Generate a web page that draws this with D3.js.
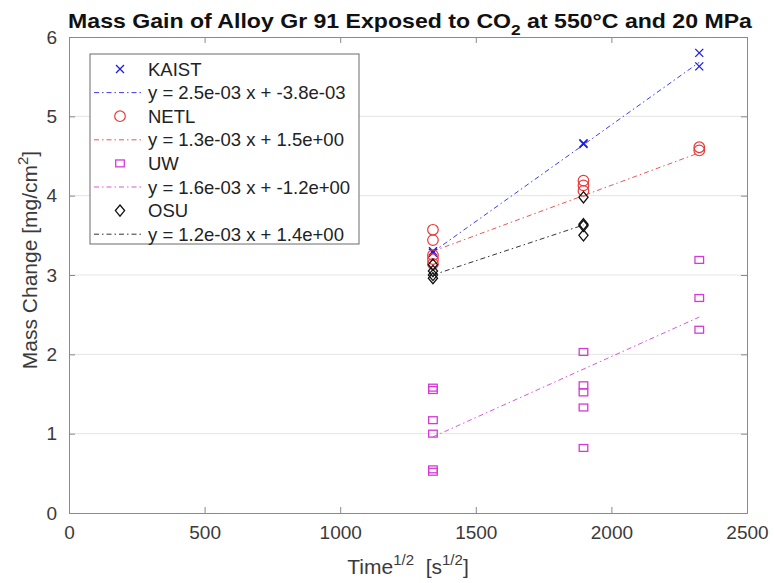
<!DOCTYPE html>
<html><head><meta charset="utf-8">
<script src="https://cdn.jsdelivr.net/npm/d3@7"></script>
<style>
body{margin:0;background:#fff;}
text{font-family:"Liberation Sans",Arial,sans-serif;}
</style></head>
<body><svg id="c" width="774" height="583"></svg>
<script>
// ---- data ----
const seriesNames = ["KAIST", "NETL", "UW", "OSU"];
const kaistX = [1342, 1342, 1897, 1897, 2324, 2324];
const kaistY = [3.28, 3.30, 4.65, 4.66, 5.80, 5.63];
const netlX = [1342, 1342, 1342, 1342, 1342, 1897, 1897, 1897, 2324, 2324];
const netlY = [3.57, 3.44, 3.25, 3.20, 3.14, 4.19, 4.13, 4.06, 4.61, 4.57];
const uwX = [1342, 1342, 1342, 1342, 1342, 1342, 1897, 1897, 1897, 1897, 1897, 2324, 2324, 2324];
const uwY = [1.58, 1.55, 1.17, 1.00, 0.55, 0.52, 2.03, 1.61, 1.52, 1.33, 0.82, 3.19, 2.71, 2.31];
const osuX = [1342, 1342, 1342, 1342, 1897, 1897, 1897, 1897];
const osuY = [3.13, 3.05, 3.00, 2.96, 3.98, 3.64, 3.62, 3.50];
const fitSlope = [2.434e-3, 1.263e-3, 1.538e-3, 1.135e-3];
const fitIntercept = [0.024, 1.605, -1.104, 1.477];
const fitLabels = ["y = 2.5e-03 x + -3.8e-03", "y = 1.3e-03 x + 1.5e+00", "y = 1.6e-03 x + -1.2e+00", "y = 1.2e-03 x + 1.4e+00"];
const xTicks = [0, 500, 1000, 1500, 2000, 2500];
const yTicks = [0, 1, 2, 3, 4, 5, 6];
const colors = ["#1c1ce6", "#e83a3a", "#d63ad6", "#111111"];
const markerTypes = ["x", "circle", "square", "diamond"];

const seriesData = [[kaistX, kaistY], [netlX, netlY], [uwX, uwY], [osuX, osuY]];

// ---- layout ----
const L = 69, R = 747, T = 37, B = 513;
const svg = d3.select("#c");
const x = d3.scaleLinear().domain([0, 2500]).range([L, R]);
const y = d3.scaleLinear().domain([0, 6]).range([B, T]);
const axisCol = "#8a8a8a", textCol = "#3a3a3a";
const fontFam = '"Liberation Sans",Arial,sans-serif';

// grid
svg.append("g").selectAll("line").data(yTicks.slice(1, -1)).join("line")
  .attr("x1", L).attr("x2", R).attr("y1", d => y(d)).attr("y2", d => y(d))
  .attr("stroke", "#e4e4e4").attr("stroke-width", 1);

// axes
const fs = 19;
const fmt = d3.format("d");
const gx = svg.append("g").attr("transform", `translate(0,${B})`)
  .call(d3.axisBottom(x).tickValues(xTicks).tickSize(-6).tickPadding(13).tickFormat(fmt));
const gxt = svg.append("g").attr("transform", `translate(0,${T})`)
  .call(d3.axisTop(x).tickValues(xTicks).tickSize(-6).tickFormat(""));
const gy = svg.append("g").attr("transform", `translate(${L},0)`)
  .call(d3.axisLeft(y).tickValues(yTicks).tickSize(-6).tickPadding(12).tickFormat(fmt));
const gyr = svg.append("g").attr("transform", `translate(${R},0)`)
  .call(d3.axisRight(y).tickValues(yTicks).tickSize(-6).tickFormat(""));
[gx, gxt, gy, gyr].forEach(g => {
  g.select(".domain").attr("stroke", axisCol);
  g.selectAll(".tick line").attr("stroke", axisCol);
  g.selectAll("text").attr("fill", textCol).style("font-size", fs + "px").style("font-family", fontFam);
});

// fit lines
const dash = "5,3,1.5,3";
seriesData.forEach(([xs, ys], i) => {
  const ext = d3.extent(xs);
  svg.append("line")
    .attr("x1", x(ext[0])).attr("y1", y(fitSlope[i] * ext[0] + fitIntercept[i]))
    .attr("x2", x(ext[1])).attr("y2", y(fitSlope[i] * ext[1] + fitIntercept[i]))
    .attr("stroke", colors[i]).attr("stroke-width", 1).attr("stroke-dasharray", dash)
    .attr("opacity", 0.85);
});

// marker drawer
function drawMarker(g, type, cx, cy, col) {
  if (type === "x") {
    const s = 4;
    g.append("path").attr("d", `M${cx - s},${cy - s}L${cx + s},${cy + s}M${cx - s},${cy + s}L${cx + s},${cy - s}`)
      .attr("stroke", col).attr("stroke-width", 1.3).attr("fill", "none");
  } else if (type === "circle") {
    g.append("circle").attr("cx", cx).attr("cy", cy).attr("r", 5.3)
      .attr("stroke", col).attr("stroke-width", 1.2).attr("fill", "none");
  } else if (type === "square") {
    const s = 4.3;
    g.append("rect").attr("x", cx - s).attr("y", cy - s * 0.8).attr("width", 2 * s).attr("height", 1.6 * s)
      .attr("stroke", col).attr("stroke-width", 1.3).attr("fill", "none");
  } else {
    const w = 4.6, h = 5.6;
    g.append("path").attr("d", `M${cx},${cy - h}L${cx + w},${cy}L${cx},${cy + h}L${cx - w},${cy}Z`)
      .attr("stroke", col).attr("stroke-width", 1.3).attr("fill", "none");
  }
}

// points
seriesData.forEach(([xs, ys], i) => {
  const g = svg.append("g");
  xs.forEach((xv, k) => drawMarker(g, markerTypes[i], x(xv), y(ys[k]), colors[i]));
});

// legend
const lg = svg.append("g");
const lx = 90, ly = 54, lw = 269, lh = 190, rowH = 23.6, row0 = 69;
lg.append("rect").attr("x", lx).attr("y", ly).attr("width", lw).attr("height", lh)
  .attr("fill", "#fff").attr("stroke", "#6a6a6a").attr("stroke-width", 1);
seriesNames.forEach((name, i) => {
  const yMark = row0 + (2 * i) * rowH;
  const yLine = row0 + (2 * i + 1) * rowH;
  drawMarker(lg, markerTypes[i], 120, yMark, colors[i]);
  lg.append("text").attr("x", 148).attr("y", yMark + 6.5).text(name)
    .attr("fill", "#222").style("font-size", "18.5px");
  lg.append("line").attr("x1", 94).attr("x2", 142).attr("y1", yLine).attr("y2", yLine)
    .attr("stroke", colors[i]).attr("stroke-width", 1).attr("stroke-dasharray", dash).attr("opacity", 0.85);
  lg.append("text").attr("x", 148).attr("y", yLine + 6.5).text(fitLabels[i])
    .attr("fill", "#222").style("font-size", "18.5px");
});

// title (fit to reference width)
const cx0 = (L + R) / 2 + 2;
const title = svg.append("text").attr("x", 0).attr("y", 0).attr("text-anchor", "middle")
  .style("font-size", "20px").style("font-weight", "bold").attr("fill", "#111");
title.append("tspan").text("Mass Gain of Alloy Gr 91 Exposed to CO");
title.append("tspan").attr("dy", 7).style("font-size", "15px").text("2");
title.append("tspan").attr("dy", -7).text(" at 550°C and 20 MPa");
const tw = title.node().getComputedTextLength();
title.attr("transform", `translate(${cx0},28) scale(${684 / tw},1)`);

// x label
const xl = svg.append("text").attr("x", (L + R) / 2).attr("y", 574).attr("text-anchor", "middle")
  .style("font-size", "21px").attr("fill", textCol);
xl.append("tspan").text("Time");
xl.append("tspan").attr("dy", -9).style("font-size", "15px").text("1/2");
xl.append("tspan").attr("dy", 9).text("  [s").attr("xml:space", "preserve");
xl.append("tspan").attr("dy", -9).style("font-size", "15px").text("1/2");
xl.append("tspan").attr("dy", 9).text("]");
xl.attr("xml:space", "preserve");

// y label
const yl = svg.append("text").attr("transform", `translate(37,260) rotate(-90)`)
  .attr("text-anchor", "middle").style("font-size", "21px").attr("fill", textCol);
yl.append("tspan").text("Mass Change [mg/cm");
yl.append("tspan").attr("dy", -9).style("font-size", "15px").text("2");
yl.append("tspan").attr("dy", 9).text("]");
</script></body></html>
